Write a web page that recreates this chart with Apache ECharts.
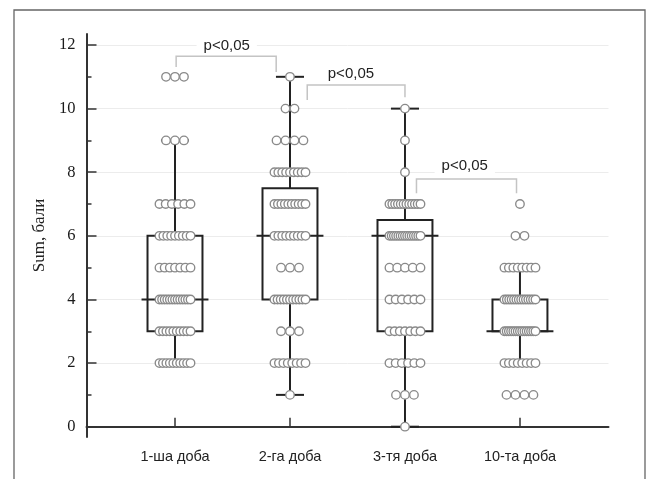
<!DOCTYPE html>
<html><head><meta charset="utf-8">
<script src="https://cdn.jsdelivr.net/npm/echarts@6/dist/echarts.min.js"></script>
<style>html,body{margin:0;padding:0;background:#fff}#c{width:651px;height:479px}</style>
</head><body><div id="c"></div>
<script>
// ---- data ----
const categories = ['1-ша доба', '2-га доба', '3-тя доба', '10-та доба'];
const scoreLevels = [0, 1, 2, 3, 4, 5, 6, 7, 8, 9, 10, 11];
const countsDay1  = [0, 0, 10, 10, 13, 7, 9, 6, 0, 3, 0, 3];
const countsDay2  = [0, 1, 8, 3, 11, 3, 9, 10, 9, 4, 2, 1];
const countsDay3  = [1, 3, 6, 7, 6, 5, 15, 12, 1, 1, 1, 0];
const countsDay10 = [0, 4, 8, 15, 14, 8, 2, 1, 0, 0, 0, 0];
const whiskerLow  = [2, 1, 0, 2];
const quartile1   = [3, 4, 3, 3];
const medians     = [4, 6, 6, 3];
const quartile3   = [6, 7.5, 6.5, 4];
const whiskerHigh = [9, 11, 10, 5];
const yTicks = [0, 2, 4, 6, 8, 10, 12];
const yMinorTicks = [1, 3, 5, 7, 9, 11];
// significance brackets
const bracketStart    = [1.01, 2.15, 3.10];
const bracketEnd      = [1.88, 3.00, 3.97];
const bracketTop      = [11.65, 10.74, 7.79];
const bracketLeftEnd  = [11.31, 10.27, 7.34];
const bracketRightEnd = [11.15, 10.36, 7.34];
const bracketLabelX   = [1.45, 2.53, 3.52];
const bracketLabelY   = [11.97, 11.09, 8.19];
const bracketText     = ['p<0,05', 'p<0,05', 'p<0,05'];

// ---- build ----
const allCounts = [countsDay1, countsDay2, countsDay3, countsDay10];
const dotStep = 0.078, maxSpread = 0.27;
const dots = [];
allCounts.forEach((counts, g) => {
  counts.forEach((n, k) => {
    if (!n) return;
    const step = n > 1 ? Math.min(dotStep, maxSpread / (n - 1)) : 0;
    for (let i = 0; i < n; i++) {
      dots.push([g + 1 + (i - (n - 1) / 2) * step, scoreLevels[k]]);
    }
  });
});
const boxData = categories.map((c, i) => [i + 1, whiskerLow[i], quartile1[i], medians[i], quartile3[i], whiskerHigh[i]]);
const bracketData = bracketText.map((t, i) => [bracketStart[i], bracketEnd[i], bracketTop[i], bracketLeftEnd[i], bracketRightEnd[i], bracketLabelX[i], bracketLabelY[i]]);

const boxHalf = 0.239, medHalf = 0.291, capHalf = 0.122;
const lineCol = '#222';

const chart = echarts.init(document.getElementById('c'), null, {renderer: 'canvas'});
chart.setOption({
  animation: false,
  backgroundColor: '#fff',
  graphic: [{
    type: 'rect', shape: {x: 14, y: 10, width: 631, height: 480}, z: -10,
    style: {fill: 'none', stroke: '#666', lineWidth: 1.3}
  }],
  grid: {left: 86.5, right: 42.5, top: 34, bottom: 42, containLabel: false},
  xAxis: {
    type: 'value', min: 0.2304, max: 4.770,
    axisLine: {show: true, lineStyle: {color: '#333', width: 2}},
    axisTick: {show: true, inside: true, length: 9, customValues: [1, 2, 3, 4], lineStyle: {color: '#333', width: 1.5}},
    axisLabel: {show: true, customValues: [1, 2, 3, 4], formatter: v => categories[Math.round(v) - 1] || '',
      color: '#222', fontFamily: 'Liberation Sans, Arial, sans-serif', fontSize: 14.5, margin: 12},
    splitLine: {show: false}
  },
  yAxis: [{
    type: 'value', min: -0.324, max: 12.346,
    name: 'Sum, бали', nameLocation: 'middle', nameGap: 38, nameRotate: 90,
    nameTextStyle: {fontFamily: 'Liberation Serif, Times New Roman, serif', fontSize: 17, color: '#222'},
    axisLine: {show: true, lineStyle: {color: '#333', width: 2}},
    axisTick: {show: true, inside: true, length: 10, customValues: yTicks, lineStyle: {color: '#333', width: 1.5}},
    axisLabel: {show: true, customValues: yTicks, color: '#1a1a1a', fontFamily: 'Liberation Serif, Times New Roman, serif', fontSize: 16.5, margin: 11},
    splitLine: {show: true, lineStyle: {color: '#ececec', width: 1}}
  }, {
    type: 'value', min: -0.324, max: 12.346, position: 'left',
    axisLine: {show: false},
    axisTick: {show: true, inside: true, length: 5, customValues: yMinorTicks, lineStyle: {color: '#333', width: 1.5}},
    axisLabel: {show: false},
    splitLine: {show: false}
  }],
  series: [{
    type: 'custom', z: 2, data: boxData,
    renderItem: (params, api) => {
      const x = api.value(0);
      const pt = (dx, y) => api.coord([x + dx, y]);
      const lo = api.value(1), q1 = api.value(2), md = api.value(3), q3 = api.value(4), hi = api.value(5);
      const ls = {stroke: lineCol, lineWidth: 2, fill: null};
      const a = pt(-boxHalf, q3), b = pt(boxHalf, q1);
      return {type: 'group', children: [
        {type: 'line', shape: {x1: pt(0, q3)[0], y1: pt(0, q3)[1], x2: pt(0, hi)[0], y2: pt(0, hi)[1]}, style: ls},
        {type: 'line', shape: {x1: pt(0, q1)[0], y1: pt(0, q1)[1], x2: pt(0, lo)[0], y2: pt(0, lo)[1]}, style: ls},
        {type: 'line', shape: {x1: pt(-capHalf, hi)[0], y1: pt(0, hi)[1], x2: pt(capHalf, hi)[0], y2: pt(0, hi)[1]}, style: ls},
        {type: 'line', shape: {x1: pt(-capHalf, lo)[0], y1: pt(0, lo)[1], x2: pt(capHalf, lo)[0], y2: pt(0, lo)[1]}, style: ls},
        {type: 'rect', shape: {x: a[0], y: a[1], width: b[0] - a[0], height: b[1] - a[1]}, style: {stroke: lineCol, lineWidth: 2, fill: null}},
        {type: 'line', shape: {x1: pt(-medHalf, md)[0], y1: pt(0, md)[1], x2: pt(medHalf, md)[0], y2: pt(0, md)[1]}, style: ls}
      ]};
    }
  }, {
    type: 'scatter', z: 3, data: dots, symbol: 'circle', symbolSize: 8.5,
    itemStyle: {color: '#fff', borderColor: '#8a8a8a', borderWidth: 1.35, opacity: 1},
    emphasis: {disabled: true}, silent: true
  }, {
    type: 'custom', z: 4, data: bracketData,
    renderItem: (params, api) => {
      const x1 = api.value(0), x2 = api.value(1), yt = api.value(2), yl = api.value(3), yr = api.value(4);
      const p1 = api.coord([x1, yl]), p2 = api.coord([x1, yt]), p3 = api.coord([x2, yt]), p4 = api.coord([x2, yr]);
      const tp = api.coord([api.value(5), api.value(6)]);
      return {type: 'group', children: [
        {type: 'polyline', shape: {points: [p1, p2, p3, p4]}, style: {stroke: '#c4c4c4', lineWidth: 1.5, fill: null}},
        {type: 'text', x: tp[0], y: tp[1], style: {text: bracketText[params.dataIndex], align: 'center', verticalAlign: 'middle',
          fill: '#222', font: '15px "Liberation Sans", Arial, sans-serif', backgroundColor: '#fff', padding: [1, 7]}}
      ]};
    }
  }]
});
</script></body></html>
